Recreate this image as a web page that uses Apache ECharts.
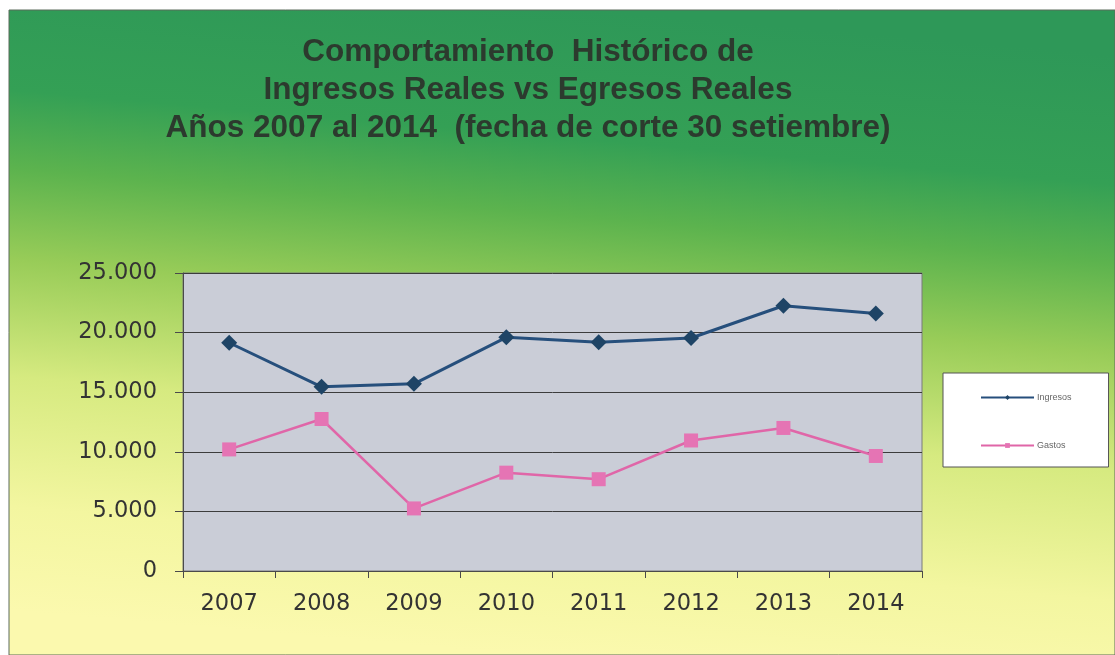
<!DOCTYPE html>
<html>
<head>
<meta charset="utf-8">
<script src="https://cdn.jsdelivr.net/npm/echarts@6/dist/echarts.min.js"></script>
<style>
html,body{margin:0;padding:0;background:#ffffff;}
#chart{width:1115px;height:655px;}
</style>
</head>
<body>
<div id="chart"></div>
<script>
var categories = ['2007','2008','2009','2010','2011','2012','2013','2014'];
var ingresos = [19150, 15450, 15700, 19600, 19200, 19550, 22250, 21600];
var gastos = [10200, 12750, 5250, 8250, 7700, 10950, 12000, 9650];
var titleLines = ['Comportamiento  Histórico de', 'Ingresos Reales vs Egresos Reales', 'Años 2007 al 2014  (fecha de corte 30 setiembre)'];
var seriesNames = ['Ingresos', 'Gastos'];

var chart = echarts.init(document.getElementById('chart'), null, {renderer: 'canvas'});

function fmt(v){
  return String(v).replace(/\B(?=(\d{3})+(?!\d))/g, '.');
}

var option = {
  backgroundColor: '#ffffff',
  animation: false,
  graphic: [{
    type: 'rect',
    z: -100,
    silent: true,
    shape: {x: 9, y: 10, width: 1106, height: 645},
    style: {
      fill: new echarts.graphic.LinearGradient(0.525, 0, 0.475, 1, [
        {offset: 0, color: '#2e9858'},
        {offset: 0.2, color: '#34a055'},
        {offset: 0.32, color: '#5cb34e'},
        {offset: 0.46, color: '#98cc58'},
        {offset: 0.64, color: '#d6ea80'},
        {offset: 0.84, color: '#f3f6a0'},
        {offset: 1, color: '#fbf9ae'}
      ]),
      stroke: '#5a6a5a',
      lineWidth: 1
    }
  }],
  title: {
    text: titleLines.join('\n'),
    left: 528,
    textAlign: 'center',
    top: 33,
    padding: 0,
    textStyle: {
      fontFamily: 'Liberation Sans, Arial, sans-serif',
      fontWeight: 'bold',
      fontSize: 31.5,
      lineHeight: 38,
      color: '#2c3a2e'
    }
  },
  legend: {
    orient: 'vertical',
    left: 943,
    top: 373,
    width: 167,
    data: seriesNames,
    backgroundColor: '#ffffff',
    borderColor: '#555555',
    borderWidth: 1,
    padding: [20, 37, 17, 37],
    itemWidth: 53,
    itemHeight: 6,
    itemGap: 39,
    textStyle: {
      fontFamily: 'Liberation Sans, Arial, sans-serif',
      fontSize: 9,
      color: '#666666',
      padding: [0, 0, 0, -2]
    }
  },
  grid: {
    left: 183,
    right: 193,
    top: 273,
    bottom: 84,
    show: true,
    backgroundColor: '#cacdd7',
    borderColor: '#7a7a7a',
    borderWidth: 1
  },
  xAxis: {
    type: 'category',
    data: categories,
    boundaryGap: true,
    axisLine: {lineStyle: {color: '#4a4a4a', width: 1}},
    axisTick: {show: true, length: 7, lineStyle: {color: '#4a4a4a'}},
    axisLabel: {
      fontFamily: 'DejaVu Sans, sans-serif',
      fontSize: 22.5,
      color: '#333333',
      margin: 22
    }
  },
  yAxis: {
    type: 'value',
    min: 0,
    max: 25000,
    interval: 5000,
    axisLine: {show: true, lineStyle: {color: '#4a4a4a', width: 1}},
    axisTick: {show: true, length: 8, lineStyle: {color: '#4a4a4a'}},
    splitLine: {show: true, lineStyle: {color: '#3c3c3c', width: 1}},
    axisLabel: {
      fontFamily: 'DejaVu Sans, sans-serif',
      fontSize: 22.5,
      color: '#333333',
      margin: 26,
      formatter: fmt
    }
  },
  series: [{
    name: seriesNames[0],
    type: 'line',
    data: ingresos,
    symbol: 'diamond',
    symbolSize: 16,
    lineStyle: {color: '#264f7c', width: 3},
    itemStyle: {color: '#1e4466'},
    z: 3
  }, {
    name: seriesNames[1],
    type: 'line',
    data: gastos,
    symbol: 'rect',
    symbolSize: 14,
    lineStyle: {color: '#e066a8', width: 2.5},
    itemStyle: {color: '#e574b4'},
    z: 2
  }]
};
chart.setOption(option);
</script>
</body>
</html>
